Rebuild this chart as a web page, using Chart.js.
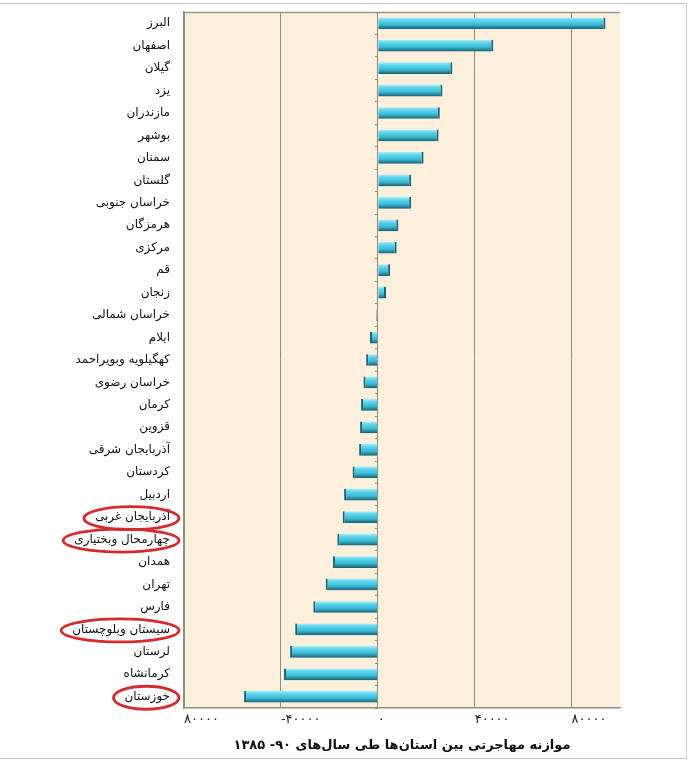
<html>
<head>
<title>Migration balance</title>
<script src="https://cdn.jsdelivr.net/npm/chart.js"></script>
<style>
  body { margin: 0; background: #fff; }
  #wrap { position: relative; width: 688px; height: 768px; }
  #frame { position: absolute; left: -2px; top: 3px; width: 689px; height: 756px; box-sizing: border-box;
           border-top: 1.5px solid #c2c2c2; border-bottom: 1.5px solid #c2c2c2; border-right: 1px solid #d0d0d0;
           pointer-events: none; }
</style>
</head>
<body>
<div id="wrap">
  <canvas id="bar-chart" width="688" height="768" dir="rtl"></canvas>
  <div id="frame"></div>
</div>
<script>
const provinces = [
  'البرز', 'اصفهان', 'گیلان', 'یزد', 'مازندران', 'بوشهر', 'سمنان', 'گلستان',
  'خراسان جنوبی', 'هرمزگان', 'مرکزی', 'قم', 'زنجان', 'خراسان شمالی', 'ایلام',
  'کهگیلویه وبویراحمد', 'خراسان رضوی', 'کرمان', 'قزوین', 'آذربایجان شرقی', 'کردستان',
  'اردبیل', 'آذربایجان غربی', 'چهارمحال وبختیاری', 'همدان', 'تهران', 'فارس',
  'سیستان وبلوچستان', 'لرستان', 'کرمانشاه', 'خوزستان'
];
const balance = [
  94000, 47700, 30800, 26700, 25600, 25100, 18900, 13800,
  13800, 8500, 7800, 5100, 3400, -600, -3200,
  -4800, -5900, -6900, -7300, -7700, -10400,
  -13900, -14500, -16700, -18500, -21500, -26600,
  -34100, -36200, -38700, -55200
];
const tickValues = [-80000, -40000, 0, 40000, 80000];
const tickLabels = ['۸۰۰۰۰', '۴۰۰۰۰-', '۰', '۴۰۰۰۰', '۸۰۰۰۰'];
const circled = ['آذربایجان غربی', 'چهارمحال وبختیاری', 'سیستان وبلوچستان', 'خوزستان'];
const axisTitle = 'موازنه مهاجرتی بین استان‌ها طی سال‌های ۹۰- ۱۳۸۵';

const barShare = 0.52;
const labelFont = '"DejaVu Sans", sans-serif';

// shaded cyan bars, light on top and dark underneath
function barFill(c) {
  const chart = c.chart;
  const ys = chart.scales.y;
  if (!ys || !chart.chartArea || c.dataIndex === undefined) return '#4cc9e2';
  const yc = ys.getPixelForValue(c.dataIndex);
  const h = (chart.chartArea.bottom - chart.chartArea.top) / provinces.length * barShare;
  const g = chart.ctx.createLinearGradient(0, yc - h / 2, 0, yc + h / 2);
  g.addColorStop(0, '#a8eff9');
  g.addColorStop(0.25, '#5dd4eb');
  g.addColorStop(0.6, '#3dbcd7');
  g.addColorStop(0.8, '#2a90a6');
  g.addColorStop(1, '#195a6a');
  return g;
}

const paper = {
  id: 'paper',
  beforeDraw(chart) {
    const {ctx, chartArea: a} = chart;
    ctx.save();
    ctx.fillStyle = '#fcefdb';
    ctx.fillRect(a.left, a.top, a.right - a.left, a.bottom - a.top);
    ctx.strokeStyle = '#9b988e';
    ctx.lineWidth = 1.5;
    ctx.beginPath();
    ctx.moveTo(a.left, a.top + 0.5);
    ctx.lineTo(a.right, a.top + 0.5);
    ctx.stroke();
    ctx.restore();
  }
};

const rings = {
  id: 'rings',
  afterDraw(chart) {
    const ctx = chart.ctx;
    const ys = chart.scales.y;
    ctx.save();
    ctx.font = '12px ' + labelFont;
    ctx.strokeStyle = '#d52a2e';
    ctx.lineWidth = 2.8;
    for (const name of circled) {
      const i = provinces.indexOf(name);
      const w = ctx.measureText(name).width;
      const right = ys.right - ys.options.ticks.padding;
      ctx.beginPath();
      ctx.ellipse(right - w / 2 - 1, ys.getPixelForValue(i) + 1, w / 2 + 10, 11.5, 0, 0, Math.PI * 2);
      ctx.stroke();
    }
    ctx.restore();
  }
};

new Chart(document.getElementById('bar-chart'), {
  type: 'bar',
  data: {
    labels: provinces,
    datasets: [{
      data: balance,
      xAxisID: 'x',
      yAxisID: 'y',
      backgroundColor: barFill,
      borderColor: '#1b6272',
      borderWidth: c => balance[c.dataIndex] >= 0
        ? {top: 0, left: 0, right: 2, bottom: 0}
        : {top: 0, left: 2, right: 0, bottom: 0},
      borderSkipped: false,
      categoryPercentage: 1,
      barPercentage: barShare
    }]
  },
  options: {
    indexAxis: 'y',
    responsive: false,
    animation: false,
    events: [],
    layout: { padding: {left: 0, right: 68, top: 12, bottom: 0} },
    plugins: { legend: {display: false}, tooltip: {enabled: false} },
    scales: {
      x: {
        min: -80000,
        max: 100000,
        afterBuildTicks: s => { s.ticks = tickValues.map(v => ({value: v})); },
        afterFit: s => { s.height = 60; },
        ticks: {
          align: 'start',
          padding: 4,
          color: '#222',
          font: {size: 13, family: labelFont},
          callback: (v, i) => tickLabels[i]
        },
        grid: { color: '#8e8b82', lineWidth: 1, drawTicks: false },
        border: { color: '#8e8b82', width: 1.5 },
        title: {
          display: true,
          text: axisTitle,
          color: '#111',
          font: {size: 13, weight: 'bold', family: labelFont},
          padding: {top: 6, bottom: 15}
        }
      },
      y: {
        afterFit: s => { s.width = 184; s.paddingTop = 0; s.paddingBottom = 0; },
        ticks: { padding: 14, color: '#111', font: {size: 12, family: labelFont} },
        grid: { display: false, drawTicks: false },
        border: { color: '#8e8b82', width: 1.5 }
      },
      yZero: {
        type: 'category',
        axis: 'y',
        position: {x: 0},
        offset: true,
        afterFit: s => { s.paddingTop = 0; s.paddingBottom = 0; },
        ticks: { display: false },
        grid: { drawOnChartArea: false, drawTicks: true, tickLength: 3, color: '#8e8b82', offset: true },
        border: { display: false }
      }
    }
  },
  plugins: [paper, rings]
});
</script>
</body>
</html>
